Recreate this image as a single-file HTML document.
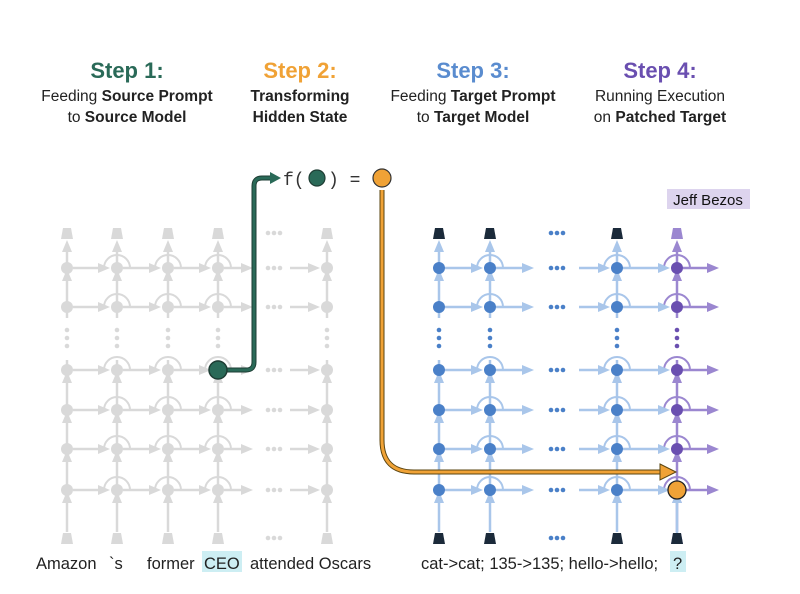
<!DOCTYPE html>
<html><head><meta charset="utf-8"><style>
body{margin:0;background:#fff;width:800px;height:589px;overflow:hidden;font-family:"Liberation Sans",sans-serif}
</style></head><body>
<svg id="s" width="800" height="589" xmlns="http://www.w3.org/2000/svg" font-family="Liberation Sans, sans-serif">
<g text-anchor="middle">
<text x="127" y="78" font-size="22" font-weight="bold" fill="#2a6a58">Step 1:</text>
<text x="300" y="78" font-size="22" font-weight="bold" fill="#f0a236">Step 2:</text>
<text x="473" y="78" font-size="22" font-weight="bold" fill="#5a8ccf">Step 3:</text>
<text x="660" y="78" font-size="22" font-weight="bold" fill="#6a4fb0">Step 4:</text>
<g font-size="15.5" fill="#222">
<text x="127" y="101">Feeding <tspan font-weight="bold">Source Prompt</tspan></text>
<text x="127" y="122">to <tspan font-weight="bold">Source Model</tspan></text>
<text x="300" y="101" font-weight="bold">Transforming</text>
<text x="300" y="122" font-weight="bold">Hidden State</text>
<text x="473" y="101">Feeding <tspan font-weight="bold">Target Prompt</tspan></text>
<text x="473" y="122">to <tspan font-weight="bold">Target Model</tspan></text>
<text x="660" y="101">Running Execution</text>
<text x="660" y="122">on <tspan font-weight="bold">Patched Target</tspan></text>
</g></g>
<g id="grid"></g>
<path d="M224 370 H246 Q254 370 254 362 V186 Q254 178 262 178 H272" fill="none" stroke="#1e3d34" stroke-width="5"/>
<path d="M224 370 H246 Q254 370 254 362 V186 Q254 178 262 178 H272" fill="none" stroke="#2a6a58" stroke-width="3"/>
<polygon points="270,172 281,178 270,184" fill="#2a6a58"/>
<circle cx="218" cy="370" r="9" fill="#2a6a58" stroke="#1e3d34" stroke-width="1.5"/>
<text x="283" y="185" font-family="Liberation Mono, monospace" font-size="18" fill="#333">f(</text>
<circle cx="317" cy="178" r="8" fill="#2a6a58" stroke="#1e3d34" stroke-width="1.2"/>
<text x="328" y="185" font-family="Liberation Mono, monospace" font-size="18" fill="#333">) =</text>
<circle cx="382" cy="178" r="9" fill="#f0a236" stroke="#333" stroke-width="1.2"/>
<path d="M382 190 V440 Q382 472 414 472 H662" fill="none" stroke="#5a4410" stroke-width="5"/>
<path d="M382 190 V440 Q382 472 414 472 H662" fill="none" stroke="#f0a236" stroke-width="3"/>
<polygon points="660,464 676,472 660,480" fill="#f0a236" stroke="#5a4410" stroke-width="1"/>
<circle cx="677" cy="490" r="9" fill="#f0a236" stroke="#222" stroke-width="1.3"/>
<rect x="667" y="189" width="83" height="20" fill="#ddd4ee"/>
<text x="708" y="205" text-anchor="middle" font-size="15" fill="#111">Jeff Bezos</text>
<g font-size="16.5" fill="#222">
<rect x="202" y="551" width="40" height="21" fill="#cdeef3"/>
<text x="36" y="569">Amazon</text><text x="109" y="569">`s</text><text x="147" y="569">former</text>
<text x="204" y="569">CEO</text><text x="250" y="569">attended Oscars</text>
<text x="421" y="569">cat-&gt;cat; 135-&gt;135; hello-&gt;hello;</text>
<rect x="670" y="551" width="16" height="21" fill="#cdeef3"/>
<text x="673" y="569">?</text>
</g>
</svg>
<script>
var g=document.getElementById('grid'),NS='http://www.w3.org/2000/svg';
function el(t,a){var e=document.createElementNS(NS,t);for(var k in a)e.setAttribute(k,a[k]);g.appendChild(e);return e;}
var rows=[268,307,370,410,449,490],top_=233,bot=538;
function varrow(x,y1,y2,c){el('line',{x1:x,y1:y1,x2:x,y2:y2+10,stroke:c,'stroke-width':2.5});el('polygon',{points:(x-5)+','+(y2+13)+' '+x+','+(y2+1)+' '+(x+5)+','+(y2+13),fill:c});}
function harrow(x1,x2,y,c){el('line',{x1:x1,y1:y,x2:x2-10,y2:y,stroke:c,'stroke-width':2.5});el('polygon',{points:(x2-13)+','+(y-5)+' '+(x2-1)+','+y+' '+(x2-13)+','+(y+5),fill:c});}
function dotsH(x,y,c){for(var i=-1;i<=1;i++)el('circle',{cx:x+i*6,cy:y,r:2.3,fill:c});}
function col(x,c,node,trap,arc){
 el('polygon',{points:(x-6)+','+(top_+6)+' '+(x+6)+','+(top_+6)+' '+(x+4)+','+(top_-5)+' '+(x-4)+','+(top_-5),fill:trap});
 el('polygon',{points:(x-6)+','+(bot+6)+' '+(x+6)+','+(bot+6)+' '+(x+4)+','+(bot-5)+' '+(x-4)+','+(bot-5),fill:trap});
 varrow(x,bot-6,490,c);varrow(x,490,449,c);varrow(x,449,410,c);varrow(x,410,370,c);varrow(x,307,268,c);varrow(x,268,top_+6,c);
 el('line',{x1:x,y1:370,x2:x,y2:360,stroke:c,'stroke-width':2.5});el('line',{x1:x,y1:307,x2:x,y2:318,stroke:c,'stroke-width':2.5});
 for(var i=0;i<3;i++)el('circle',{cx:x,cy:330+i*8,r:2.3,fill:node});
 rows.forEach(function(y){if(arc)el('path',{d:'M'+(x-13)+' '+y+' A13 13 0 0 1 '+(x+13)+' '+y,fill:'none',stroke:c,'stroke-width':2});el('circle',{cx:x,cy:y,r:6,fill:node});});
}
var G='#d9d9d9';
[67,117,168,218,327].forEach(function(x,i){col(x,G,G,G,i>0&&i<4);});
rows.forEach(function(y){harrow(73,111,y,G);harrow(123,162,y,G);harrow(174,212,y,G);harrow(224,254,y,G);dotsH(274,y,G);harrow(290,321,y,G);});
dotsH(274,233,G);dotsH(274,538,G);
var LB='#a9c6ea',B='#4a80c8',P='#9b87d0',PD='#6a4fb0';
[439,490,617].forEach(function(x,i){col(x,LB,B,'#1b2a3a',i>0);});
col(677,P,PD,P,true);
rows.forEach(function(y){harrow(445,484,y,LB);harrow(496,535,y,LB);dotsH(557,y,B);harrow(579,611,y,LB);harrow(623,671,y,LB);harrow(683,720,y,P);});
dotsH(557,233,B);dotsH(557,538,B);
el('polygon',{points:'671,544 683,544 681,533 673,533',fill:'#1b2a3a'});
el('line',{x1:677,y1:533,x2:677,y2:503,stroke:LB,'stroke-width':2.5});
el('polygon',{points:'672,503 677,491 682,503',fill:LB});
</script>
</body></html>
